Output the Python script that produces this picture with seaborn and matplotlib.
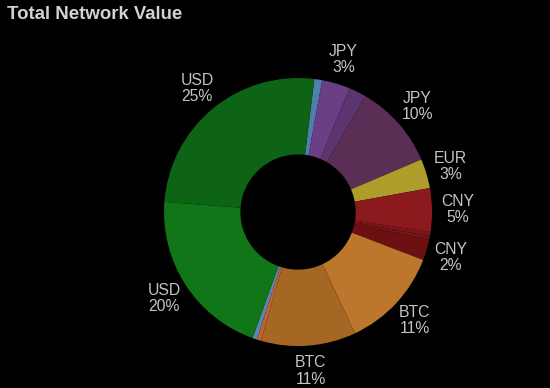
import numpy as np
import matplotlib
matplotlib.use("Agg")
import matplotlib.pyplot as plt
import seaborn as sns

currencies = ["USD", "JPY", "JPY", "JPY", "EUR", "CNY", "CNY", "CNY", "CNY",
              "BTC", "BTC", "BTC", "USD", "USD", "USD"]
shares = [0.95, 3.4, 2.1, 10.2, 3.55, 5.25, 0.5, 0.45, 2.5,
          12.2, 11.45, 0.5, 0.55, 20.7, 25.75]
pct_labels = ["", "3%", "", "10%", "3%", "5%", "", "", "2%",
              "11%", "11%", "", "", "20%", "25%"]
slice_colors = ["#4f7fae", "#6a3f86", "#5c3570", "#5a2e55", "#ad9d2a",
                "#8b1a1f", "#7e171c", "#741419", "#6c1012",
                "#bc772c", "#a66624", "#c0632a", "#5a86b0",
                "#117618", "#0d6414"]

sns.set_theme(style="dark")
plt.rcParams["font.family"] = ["Liberation Sans", "DejaVu Sans"]

labels = [f"{c}\n{p}" if p else "" for c, p in zip(currencies, pct_labels)]

fig = plt.figure(figsize=(5.5, 3.88), dpi=100, facecolor="black")
ax = fig.add_axes([0.2982, 0.1082, 0.4873, 0.6907])
ax.set_facecolor("black")

wedges, texts = ax.pie(shares, labels=labels, colors=sns.color_palette(slice_colors),
                       startangle=83, counterclock=False, radius=1.0,
                       labeldistance=1.19,
                       wedgeprops=dict(width=0.57, linewidth=0),
                       textprops=dict(color="#c4c4c4", fontsize=11.3, linespacing=1.1))
for t in texts:
    t.set_horizontalalignment("center")
    t.set_multialignment("center")
    t.set_verticalalignment("center")

ax.set_xlim(-1, 1)
ax.set_ylim(-1, 1)
ax.axis("off")

fig.text(0.013, 0.985, "Total Network Value", color="#d2d2d2", fontsize=13.4,
         fontweight="bold", ha="left", va="top")

fig.savefig("out.png", dpi=100, facecolor="black")
